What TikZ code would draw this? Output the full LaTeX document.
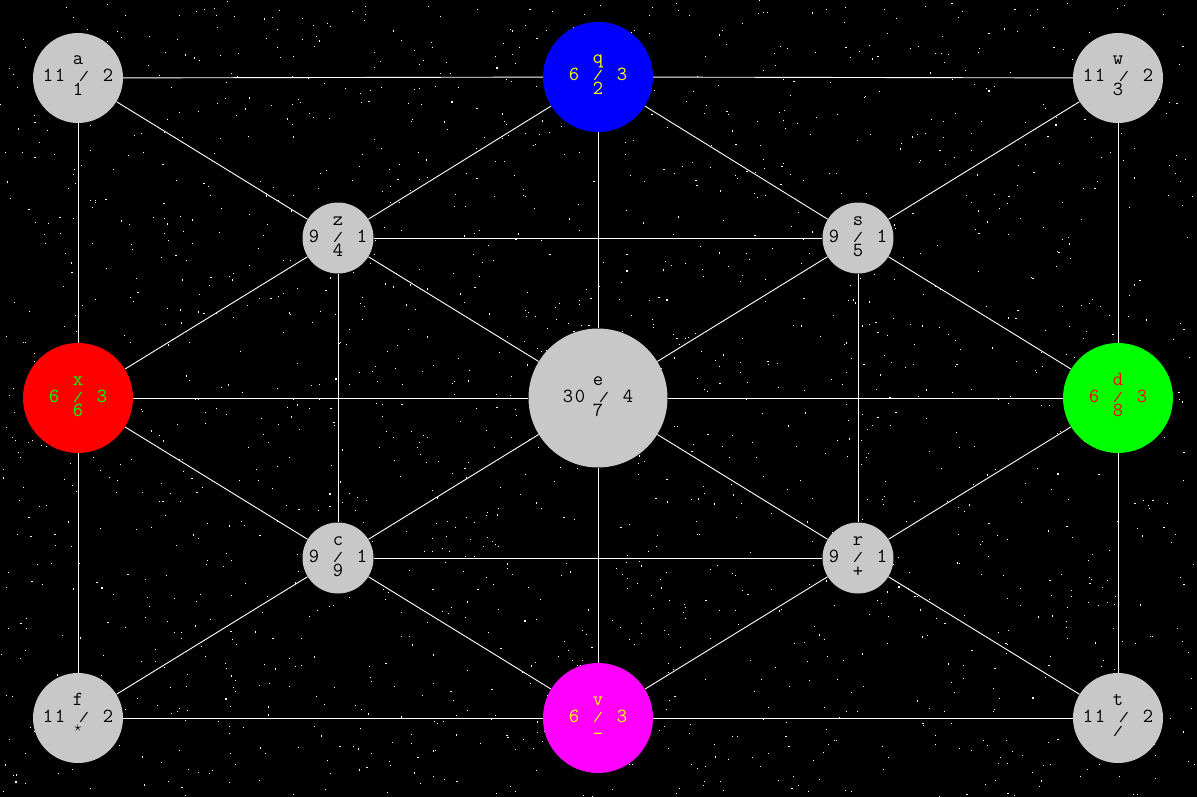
\documentclass[tikz,border=0pt]{standalone}
\usepackage{fontspec}
\usepackage{graphicx}
\definecolor{nodegray}{RGB}{200,200,200}
\definecolor{vblue}{RGB}{0,0,255}
\definecolor{vred}{RGB}{255,0,0}
\definecolor{vgreen}{RGB}{0,255,0}
\definecolor{vmag}{RGB}{255,0,255}
\definecolor{vyel}{RGB}{255,255,0}
\newcommand\mc[1]{\makebox[12pt][c]{#1}}
\newcommand\slh{\raisebox{1pt}{\scalebox{1}[0.66]{/}}}
\newcommand\midtwo[2]{\mc{#1}\mc{}\mc{\slh}\mc{}\mc{#2}}
\newcommand\midthree[3]{\mc{#1}\mc{#2}\mc{}\mc{\slh}\mc{}\mc{#3}}
\tikzset{
  vtx/.style={circle, inner sep=0pt, draw=none},
  lbl/.style={font=\ttfamily\fontsize{20}{20}\selectfont, inner sep=0pt, anchor=base},
  link/.style={draw=white, line width=0.9pt}
}
\newcommand\mkvertex[9]{%
  \node[vtx, fill=#5, minimum size=#4pt] (#1) at (#2,#3) {};
  \node[lbl, text=#6] (#1-top) at (#2,#3-13) {#7};
  \node[lbl, text=#6] (#1-mid) at (#2,#3+4) {#8};
  \node[lbl, text=#6] (#1-bot) at (#2,#3+18) {#9};
}
\begin{document}
\begin{tikzpicture}[x=1pt,y=-1pt]
\fill[black] (0,0) rectangle (1197,797);
\useasboundingbox (0,0) rectangle (1197,797);
\pgfmathsetseed{7}
\foreach \i in {1,...,1800}{%
  \pgfmathsetmacro\rx{rnd*1196}%
  \pgfmathsetmacro\ry{rnd*796}%
  \fill[white] (\rx,\ry) rectangle ++(1.1,1.1);
}
\mkvertex{a}{78}{78}{90}{nodegray}{black}{a}{\midthree{1}{1}{2}}{1}
\mkvertex{q}{598}{77}{110}{vblue}{vyel}{q}{\midtwo{6}{3}}{2}
\mkvertex{w}{1118}{78}{90}{nodegray}{black}{w}{\midthree{1}{1}{2}}{3}
\mkvertex{z}{338}{238}{71}{nodegray}{black}{z}{\midtwo{9}{1}}{4}
\mkvertex{s}{858}{238}{71}{nodegray}{black}{s}{\midtwo{9}{1}}{5}
\mkvertex{x}{78}{398}{110}{vred}{vgreen}{x}{\midtwo{6}{3}}{6}
\mkvertex{e}{598}{398}{139}{nodegray}{black}{e}{\midthree{3}{0}{4}}{7}
\mkvertex{d}{1118}{398}{110}{vgreen}{vred}{d}{\midtwo{6}{3}}{8}
\mkvertex{c}{338}{558}{71}{nodegray}{black}{c}{\midtwo{9}{1}}{9}
\mkvertex{r}{858}{558}{71}{nodegray}{black}{r}{\midtwo{9}{1}}{\raisebox{-1pt}{+}}
\mkvertex{f}{78}{718}{90}{nodegray}{black}{f}{\midthree{1}{1}{2}}{\raisebox{4.5pt}{\fontsize{14}{14}\selectfont$\star$}}
\mkvertex{v}{598}{718}{110}{vmag}{vyel}{v}{\midtwo{6}{3}}{\raisebox{6pt}{\_}}
\mkvertex{t}{1118}{718}{90}{nodegray}{black}{t}{\midthree{1}{1}{2}}{\slh}
\foreach \u/\v in {a/q, q/w, a/x, a/z, q/z, q/e, q/s, w/s, w/d, z/s, z/x, z/c, z/e,
  s/e, s/r, s/d, x/e, e/d, x/c, x/f, e/c, e/r, e/v, d/r, d/t, c/r, c/f, c/v,
  r/v, r/t, f/v, v/t}
  \draw[link] (\u) -- (\v);
\end{tikzpicture}
\end{document}
